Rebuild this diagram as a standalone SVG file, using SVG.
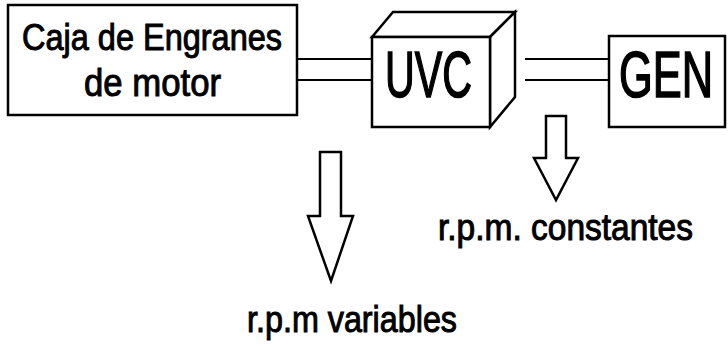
<svg xmlns="http://www.w3.org/2000/svg" width="728" height="347" viewBox="0 0 728 347">
<style>
.box{fill:none;stroke:#000;stroke-width:2.5;stroke-linejoin:miter}
.face{fill:#fff;stroke:#000;stroke-width:2.5;stroke-linejoin:miter}
.conn{stroke:#000;stroke-width:2;fill:none}
.arrow{fill:#fff;stroke:#000;stroke-width:2.5;stroke-linejoin:miter}
text{font-family:"Liberation Sans",Arial,sans-serif;fill:#000;stroke:#000;stroke-width:1}
.big{stroke-width:1.6}
</style>
<rect width="728" height="347" fill="#fff"/>
<g id="connectors">
<line class="conn" x1="297" y1="59" x2="372" y2="59"/>
<line class="conn" x1="297" y1="80" x2="372" y2="80"/>
<line class="conn" x1="525" y1="59" x2="609" y2="59"/>
<line class="conn" x1="525" y1="80" x2="609" y2="80"/>
<polygon class="arrow" points="546,116 566,116 566,158 578,158 556,200 534,158 546,158"/>
<polygon class="arrow" points="320,152 341,152 341,216 353,216 331,281 308,216 320,216"/>
</g>
<g id="caja">
<rect class="box" x="8" y="5" width="289" height="110"/>
<text x="22" y="50" font-size="37" textLength="260" lengthAdjust="spacingAndGlyphs">Caja de Engranes</text>
<text x="84" y="96" font-size="39" textLength="137" lengthAdjust="spacingAndGlyphs">de motor</text>
</g>
<g id="uvc">
<polygon class="face" points="372,37 393,12 515,12 490,37"/>
<polygon class="face" points="490,37 515,12 515,97 490,127"/>
<rect class="face" x="372" y="37" width="118" height="90"/>
<text class="big" x="385" y="97" font-size="64" textLength="87" lengthAdjust="spacingAndGlyphs">UVC</text>
</g>
<g id="gen">
<rect class="box" x="609" y="36" width="116" height="91"/>
<text class="big" transform="translate(619 97) scale(0.678 1)" x="0" y="0" font-size="64">GEN</text>
</g>
<g id="labels">
<text x="438" y="240" font-size="36" textLength="255" lengthAdjust="spacingAndGlyphs">r.p.m. constantes</text>
<text x="247" y="332" font-size="37" textLength="210" lengthAdjust="spacingAndGlyphs">r.p.m variables</text>
</g>
</svg>
